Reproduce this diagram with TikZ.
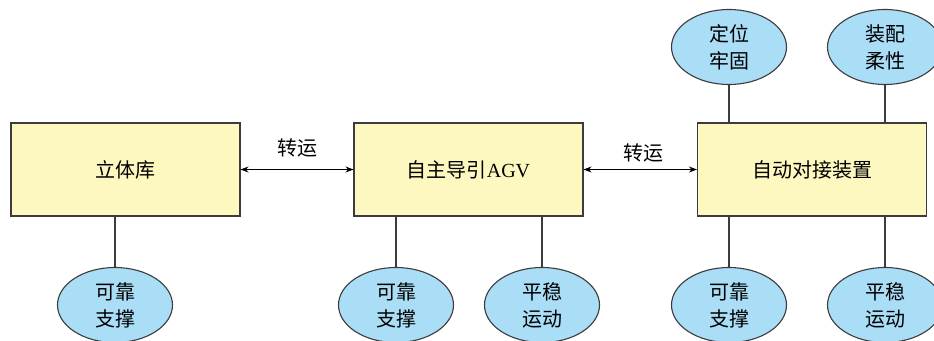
\documentclass[tikz,border=0pt]{standalone}
\usepackage{fontspec}
\setmainfont{Liberation Serif}
\newfontfamily\cjk{Noto Sans CJK SC}
\usetikzlibrary{shapes.geometric,arrows.meta}
\definecolor{boxfill}{RGB}{253,247,192}
\definecolor{ellfill}{RGB}{170,221,246}
\definecolor{linec}{RGB}{60,60,60}
\begin{document}
\begin{tikzpicture}[x=1pt,y=-1pt,
  box/.style={draw=linec,line width=1.1pt,fill=boxfill,minimum width=229pt,minimum height=93pt,inner sep=0pt,font=\cjk\fontsize{20}{24}\selectfont},
  ell/.style={ellipse,draw=linec,line width=1.1pt,fill=ellfill,minimum width=115pt,minimum height=75pt,inner sep=0pt,align=center,font=\cjk\fontsize{20}{27}\selectfont},
  conn/.style={draw=linec,line width=1.1pt},
  arr/.style={draw=black,line width=0.9pt,{Stealth[length=8pt,width=6pt]}-{Stealth[length=8pt,width=6pt]}},
  lab/.style={font=\cjk\fontsize{20}{24}\selectfont,inner sep=0pt}]
\useasboundingbox[fill=white] (0,0) rectangle (934,340);
\node[box] (b1) at (125.5,169.5) {立体库};
\node[box] (b2) at (468.5,169.5) {自主导引{\rmfamily AGV}};
\node[box] (b3) at (812,169.5) {自动对接装置};
\draw[arr] (b1.east) -- (b2.west);
\draw[arr] (b2.east) -- (b3.west);
\node[lab] (t1) at (297,148) {转运};
\node[lab] (t2) at (643,153) {转运};
\node[ell] (e1) at (115,305) {可靠\\支撑};
\node[ell] (e2) at (396,305) {可靠\\支撑};
\node[ell] (e3) at (542,305) {平稳\\运动};
\node[ell] (e4) at (729,305) {可靠\\支撑};
\node[ell] (e5) at (885,305) {平稳\\运动};
\node[ell] (e6) at (729,47) {定位\\牢固};
\node[ell] (e7) at (885,47) {装配\\柔性};
\draw[conn] (e1.north) -- (e1.north |- b1.south);
\draw[conn] (e2.north) -- (e2.north |- b2.south);
\draw[conn] (e3.north) -- (e3.north |- b2.south);
\draw[conn] (e4.north) -- (e4.north |- b3.south);
\draw[conn] (e5.north) -- (e5.north |- b3.south);
\draw[conn] (e6.south) -- (e6.south |- b3.north);
\draw[conn] (e7.south) -- (e7.south |- b3.north);
\end{tikzpicture}
\end{document}
